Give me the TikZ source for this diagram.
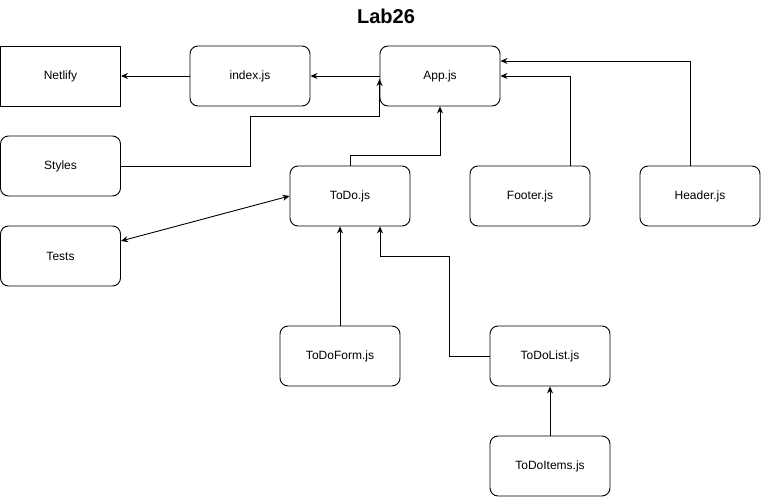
\documentclass[tikz,border=0pt]{standalone}
\usepackage{fontspec}
\setmainfont{Liberation Sans}
\usetikzlibrary{arrows.meta, positioning, calc}

\begin{document}
\begin{tikzpicture}[>={Stealth[length=7pt, width=6pt]}, x=1pt, y=-1pt, line width=0.9pt,
    every node/.style={draw, minimum width=120pt, minimum height=60pt, font=\fontsize{12}{14}\selectfont},
    rbox/.style={rounded corners=8pt}]
    \useasboundingbox (0, 0) rectangle (761, 497);

    \node (Title) at (386, 16) [draw=none, minimum size=0pt, font=\fontsize{20}{24}\selectfont\bfseries] {Lab26};

    \node (Netlify) at (60.5, 76) {Netlify};
    \node (Index) at (250, 76) [rbox] {index.js};
    \node (App) at (440, 76) [rbox] {App.js};
    \node (Styles) at (60.5, 166) [rbox] {Styles};
    \node (Tests) at (60.5, 256) [rbox] {Tests};
    \node (ToDo) at (350, 196) [rbox] {ToDo.js};
    \node (Footer) at (530, 196) [rbox] {Footer.js};
    \node (Header) at (700, 196) [rbox] {Header.js};
    \node (ToDoForm) at (340, 356) [rbox] {ToDoForm.js};
    \node (ToDoList) at (550, 356) [rbox] {ToDoList.js};
    \node (ToDoItems) at (550, 466) [rbox] {ToDoItems.js};

    \draw[->] (Index) -- (Netlify);
    \draw[->] (App) -- (Index);
    \draw[->] (Styles.east) -| (250, 116) -| ([yshift=-3pt]App.west);
    \draw[->] (ToDo.north) -- ++(0, -10) -| (App.south);
    \draw[->] ([xshift=40pt]Footer.north) |- (App.east);
    \draw[->] ([xshift=-10pt]Header.north) |- ([yshift=15pt]App.east);
    \draw[<->] ([yshift=15pt]Tests.east) -- (ToDo.west);
    \draw[->] (ToDoForm.north) -- (ToDoForm.north |- ToDo.south);
    \draw[->] (ToDoList.west) -- ++(-40, 0) -- ++(0, -100) -| ([xshift=30pt]ToDo.south);
    \draw[->] (ToDoItems) -- (ToDoList);
\end{tikzpicture}
\end{document}
